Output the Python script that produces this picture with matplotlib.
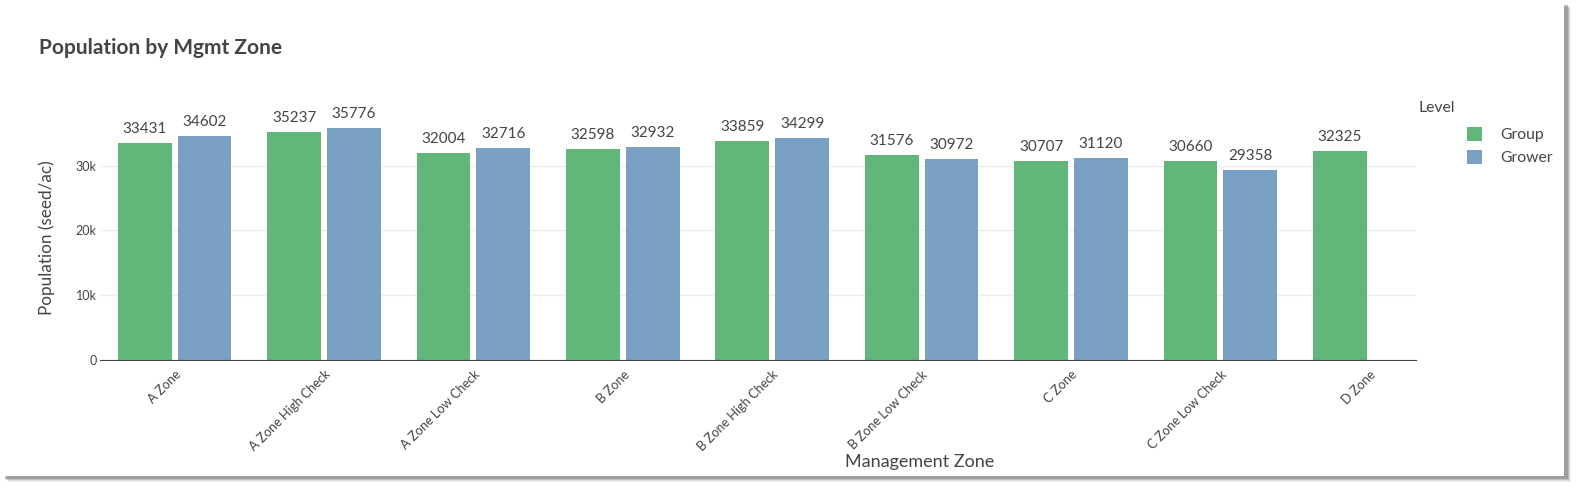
import numpy as np
import matplotlib.pyplot as plt
from matplotlib.patches import Rectangle

plt.rcParams['font.family'] = ['Lato', 'DejaVu Sans']

# data
zones = ['A Zone', 'A Zone High Check', 'A Zone Low Check', 'B Zone',
         'B Zone High Check', 'B Zone Low Check', 'C Zone', 'C Zone Low Check',
         'D Zone']
group_pop = [33431, 35237, 32004, 32598, 33859, 31576, 30707, 30660, 32325]
grower_pop = [34602, 35776, 32716, 32932, 34299, 30972, 31120, 29358, np.nan]
levels = ['Group', 'Grower']
ytick_vals = [0, 10000, 20000, 30000]
ytick_labels = ['0', '10k', '20k', '30k']

GREEN = '#62b67a'
BLUE = '#7aa1c3'
TXT = '#444444'

W, H = 1581, 494
fig = plt.figure(figsize=(W / 100, H / 100), dpi=100)

# card with a drop shadow
for i, a in enumerate([0.10, 0.18, 0.30, 0.45]):
    off = 4 - i
    fig.patches.append(Rectangle(((4 + off) / W, 1 - (478 + off) / H),
                                 (1563) / W, (474) / H,
                                 transform=fig.transFigure, facecolor='#7a7a7a',
                                 alpha=a, edgecolor='none', zorder=0))
fig.patches.append(Rectangle((0, 1 - 476 / H), 1564 / W, 476 / H,
                             transform=fig.transFigure, facecolor='white',
                             edgecolor='none', zorder=1))

ax = fig.add_axes([100 / W, 1 - 360 / H, 1316 / W, 244 / H])
ax.set_facecolor('none')
ax.set_zorder(2)

x = np.arange(len(zones))
bw = 0.36
b1 = ax.bar(x - 0.2, group_pop, bw, color=GREEN, label=levels[0], zorder=3)
b2 = ax.bar(x + 0.2, grower_pop, bw, color=BLUE, label=levels[1], zorder=3)

for bars, vals in ((b1, group_pop), (b2, grower_pop)):
    for r, v in zip(bars, vals):
        if np.isnan(v):
            continue
        ax.annotate(f'{int(v)}', (r.get_x() + r.get_width() / 2, v),
                    xytext=(0, 5), textcoords='offset points',
                    ha='center', va='bottom', fontsize=11, color=TXT)

ax.set_xlim(-0.5, 8.31)
ax.set_ylim(0, 37659)
ax.set_yticks(ytick_vals)
ax.set_yticklabels(ytick_labels, fontsize=9, color=TXT)
ax.grid(axis='y', color='#eeeeee', linewidth=1, zorder=0)
ax.tick_params(axis='y', length=0, pad=2.5)
ax.tick_params(axis='x', length=0, pad=6)
ax.set_xticks(x)
ax.set_xticklabels(zones, rotation=45, ha='right', va='top',
                   rotation_mode='anchor', fontsize=9.2, color=TXT)
for s in ['top', 'right', 'left']:
    ax.spines[s].set_visible(False)
ax.spines['bottom'].set_color(TXT)
ax.spines['bottom'].set_zorder(4)

fig.text(39 / W, 1 - 48 / H, 'Population by Mgmt Zone', fontsize=15,
         color=TXT, weight='bold', va='center', ha='left', zorder=3)
fig.text(47 / W, 1 - 238 / H, 'Population (seed/ac)', rotation=90,
         fontsize=12.3, color=TXT, va='center', ha='center', zorder=3)
fig.text(920 / W, 1 - 462 / H, 'Management Zone', fontsize=13,
         color=TXT, va='center', ha='center', zorder=3)

fig.text(1419 / W, 1 - 108 / H, 'Level', fontsize=11.3, color=TXT,
         va='center', ha='left', zorder=3)
leg = fig.legend(handles=[b1, b2], labels=levels,
                 loc='upper left', bbox_to_anchor=(1467 / W, 1 - 127 / H),
                 frameon=False, fontsize=11.3, borderpad=0, borderaxespad=0,
                 handlelength=0.96, handleheight=0.96, handletextpad=1.15,
                 labelspacing=0.5, labelcolor=TXT)
leg.set_zorder(3)

fig.savefig('out.png', dpi=100)
